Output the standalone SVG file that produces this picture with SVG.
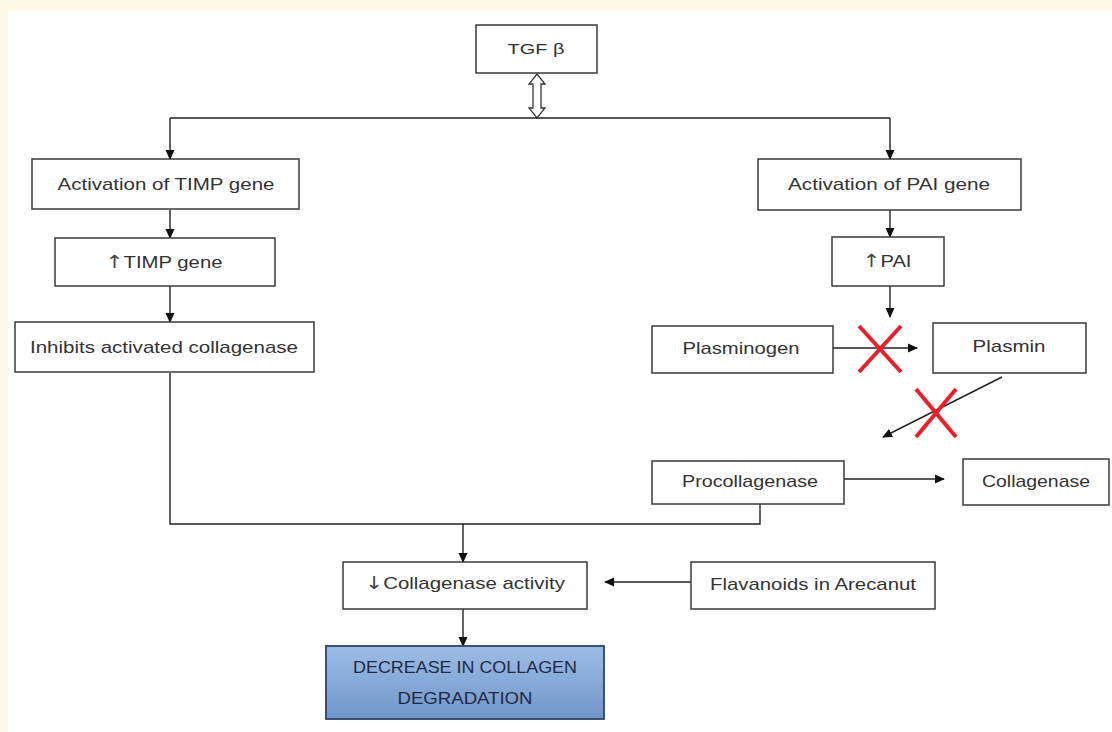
<svg xmlns="http://www.w3.org/2000/svg" width="1112" height="732" viewBox="0 0 1112 732">
<defs>
<marker id="ah" markerWidth="10" markerHeight="10" refX="9" refY="5" orient="auto" markerUnits="userSpaceOnUse">
<path d="M0,0.5 L10,5 L0,9.5 Z" fill="#111"/>
</marker>
<linearGradient id="blue" x1="0" y1="0" x2="0" y2="1">
<stop offset="0" stop-color="#9dbde6"/>
<stop offset="1" stop-color="#7095c8"/>
</linearGradient>
<style>
.box{fill:#fff;stroke:#3a3a3a;stroke-width:1.5}
.t{font-family:"Liberation Sans",Arial,sans-serif;font-size:17px;fill:#333;text-anchor:middle}
.ar{font-family:"DejaVu Sans",sans-serif;font-size:18px;fill:#444}
.c{fill:none;stroke:#222;stroke-width:1.4}
.a{fill:none;stroke:#222;stroke-width:1.4;marker-end:url(#ah)}
.x{stroke:#e8202a;stroke-width:4;stroke-linecap:butt}
</style>
</defs>
<rect x="0" y="0" width="1112" height="732" fill="#fffae6"/>
<rect x="8" y="11" width="1104" height="721" fill="#ffffff"/>

<g id="connectors">
<path d="M537,74 L545,84 L541,84 L541,108 L545,108 L537,118 L529,108 L533,108 L533,84 L529,84 Z" fill="#fff" stroke="#333" stroke-width="1.3"/>
<path class="c" d="M170,118 H890"/>
<path class="a" d="M170,118 V159"/>
<path class="a" d="M890,118 V159"/>
<path class="a" d="M170,210 V238"/>
<path class="a" d="M170,286 V322"/>
<path class="a" d="M890,210 V237"/>
<path class="a" d="M890,286 V317"/>
<path class="a" d="M833,348 H917"/>
<path class="a" d="M1002,377 L883,437"/>
<path class="a" d="M844,479 H944"/>
<path class="c" d="M170,373 V524 H760 V504"/>
<path class="a" d="M463,524 V562"/>
<path class="a" d="M691,582 H605"/>
<path class="a" d="M463,609 V646"/>
<line class="x" x1="859" y1="326" x2="901" y2="372"/>
<line class="x" x1="901" y1="326" x2="859" y2="372"/>
<line class="x" x1="916" y1="389" x2="956" y2="437"/>
<line class="x" x1="956" y1="389" x2="916" y2="437"/>
</g>

<g id="tgf">
<rect class="box" x="476" y="25" width="121" height="48"/>
<text class="t" x="536" y="54" style="font-size:15px" textLength="57" lengthAdjust="spacingAndGlyphs">TGF β</text>
</g>
<g id="act-timp">
<rect class="box" x="32" y="159" width="267" height="50"/>
<text class="t" x="166" y="190" textLength="217" lengthAdjust="spacingAndGlyphs">Activation of TIMP gene</text>
</g>
<g id="up-timp">
<rect class="box" x="55" y="238" width="220" height="48"/>
<text class="t" x="164" y="268" textLength="117" lengthAdjust="spacingAndGlyphs"><tspan class="ar">↑</tspan>TIMP gene</text>
</g>
<g id="inhibits">
<rect class="box" x="15" y="322" width="299" height="50"/>
<text class="t" x="164" y="353" textLength="268" lengthAdjust="spacingAndGlyphs">Inhibits activated collagenase</text>
</g>
<g id="act-pai">
<rect class="box" x="758" y="159" width="263" height="51"/>
<text class="t" x="889" y="190" textLength="202" lengthAdjust="spacingAndGlyphs">Activation of PAI gene</text>
</g>
<g id="up-pai">
<rect class="box" x="832" y="237" width="112" height="49"/>
<text class="t" x="887" y="267" textLength="49" lengthAdjust="spacingAndGlyphs"><tspan class="ar">↑</tspan>PAI</text>
</g>
<g id="plasminogen">
<rect class="box" x="652" y="326" width="181" height="47"/>
<text class="t" x="741" y="354" textLength="117" lengthAdjust="spacingAndGlyphs">Plasminogen</text>
</g>
<g id="plasmin">
<rect class="box" x="933" y="323" width="153" height="50"/>
<text class="t" x="1009" y="352" textLength="73" lengthAdjust="spacingAndGlyphs">Plasmin</text>
</g>
<g id="procollagenase">
<rect class="box" x="652" y="461" width="192" height="43"/>
<text class="t" x="750" y="487" textLength="136" lengthAdjust="spacingAndGlyphs">Procollagenase</text>
</g>
<g id="collagenase">
<rect class="box" x="963" y="459" width="146" height="46"/>
<text class="t" x="1036" y="487" textLength="108" lengthAdjust="spacingAndGlyphs">Collagenase</text>
</g>
<g id="collagenase-activity">
<rect class="box" x="343" y="562" width="244" height="47"/>
<text class="t" x="465" y="589" textLength="200" lengthAdjust="spacingAndGlyphs"><tspan class="ar">↓</tspan>Collagenase activity</text>
</g>
<g id="flavanoids">
<rect class="box" x="691" y="562" width="244" height="47"/>
<text class="t" x="813" y="590" textLength="206" lengthAdjust="spacingAndGlyphs">Flavanoids in Arecanut</text>
</g>
<g id="decrease">
<rect x="326" y="646" width="278" height="73" fill="url(#blue)" stroke="#2e4468" stroke-width="1.8"/>
<text class="t" x="465" y="673" style="fill:#1e2a45" textLength="224" lengthAdjust="spacingAndGlyphs">DECREASE IN COLLAGEN</text>
<text class="t" x="465" y="704" style="fill:#1e2a45" textLength="135" lengthAdjust="spacingAndGlyphs">DEGRADATION</text>
</g>
</svg>
